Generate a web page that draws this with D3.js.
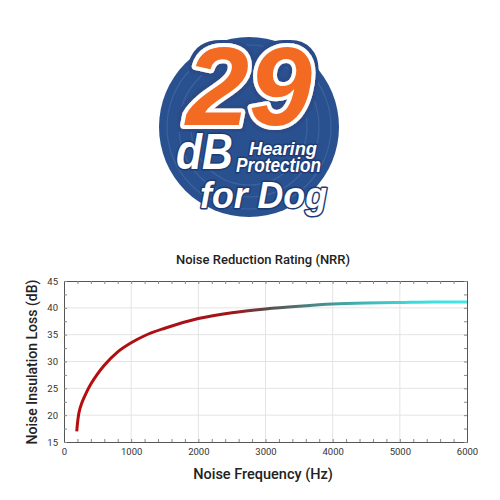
<!DOCTYPE html>
<html>
<head>
<meta charset="utf-8">
<script src="https://cdn.jsdelivr.net/npm/d3@7"></script>
<style>
  body { margin: 0; background: #fff; }
  svg { display: block; }
  .tick text { font-family: Roboto, sans-serif; font-size: 9.5px; fill: #333; }
</style>
</head>
<body>
<svg width="500" height="500"></svg>
<script>
// curve
var freqs = [190, 200, 215, 235, 260, 300, 340, 400, 500, 600, 800, 1000, 1200, 1500, 2000, 2500, 3000, 3500, 4000, 4500, 5000, 5500, 6000];
var loss  = [17, 18.4, 19.9, 21.1, 22.1, 23.3, 24.4, 25.8, 27.7, 29.3, 31.8, 33.5, 34.8, 36.2, 38.0, 39.1, 39.8, 40.3, 40.7, 40.9, 41.0, 41.1, 41.1];
var xMajor = [0, 1000, 2000, 3000, 4000, 5000, 6000];
var yMajor = [15, 20, 25, 30, 35, 40, 45];
var badgeLines = ["Hearing", "Protection", "for Dog"];

var svg = d3.select("svg");
var defs = svg.append("defs");

// thin dark-blue rim around the white outline of the "29"
var rim = defs.append("filter").attr("id", "rim")
    .attr("x", "-10%").attr("y", "-10%").attr("width", "120%").attr("height", "120%");
rim.append("feMorphology").attr("in", "SourceAlpha").attr("operator", "dilate")
    .attr("radius", 2.5).attr("result", "fat");
rim.append("feFlood").attr("flood-color", "#2a4c88");
rim.append("feComposite").attr("in2", "fat").attr("operator", "in").attr("result", "blue");
var m = rim.append("feMerge");
m.append("feMergeNode").attr("in", "blue");
m.append("feMergeNode").attr("in", "SourceGraphic");

// ---- badge ----
var badge = svg.append("g").attr("class", "badge");
badge.append("circle")
    .attr("cx", 249).attr("cy", 127).attr("r", 90)
    .attr("fill", "#29508f");
// faint rings inside the disc
[82, 70, 58].forEach(function(r) {
    badge.append("circle")
        .attr("cx", 249).attr("cy", 127).attr("r", r)
        .attr("fill", "none")
        .attr("stroke", "#4a6fa8")
        .attr("stroke-width", 1.2)
        .attr("opacity", 0.6);
});

badge.append("text")
    .text("29")
    .attr("x", 186).attr("y", 125)
    .attr("textLength", 126)
    .attr("lengthAdjust", "spacingAndGlyphs")
    .attr("filter", "url(#rim)")
    .style("font-family", "'Liberation Sans', Arial, sans-serif")
    .style("font-weight", "bold")
    .style("font-style", "italic")
    .style("font-size", "112px")
    .style("paint-order", "stroke")
    .attr("fill", "#f36a21")
    .attr("stroke", "#fff")
    .attr("stroke-width", 8)
    .attr("stroke-linejoin", "round");

// white words with a blue outline under them
function whiteStyle(t) {
    t.style("font-family", "'Liberation Sans', Arial, sans-serif")
        .style("font-weight", "bold")
        .style("font-style", "italic")
        .style("paint-order", "stroke")
        .attr("fill", "#fff")
        .attr("stroke", "#1d3c73")
        .attr("stroke-width", 3)
        .attr("stroke-linejoin", "round");
}
function whiteText(t, x, y, w, size) {
    badge.append("text")
        .text(t)
        .attr("x", x).attr("y", y)
        .attr("textLength", w)
        .attr("lengthAdjust", "spacingAndGlyphs")
        .style("font-size", size + "px")
        .call(whiteStyle);
}
whiteText("dB", 176, 169, 57, 50);

// "Hearing / Protection" as one block of two lines
var hp = badge.append("text").call(whiteStyle);
hp.append("tspan").text(badgeLines[0])
    .attr("x", 249).attr("y", 155)
    .attr("textLength", 68).attr("lengthAdjust", "spacingAndGlyphs")
    .style("font-size", "19px");
hp.append("tspan").text(badgeLines[1])
    .attr("x", 236).attr("y", 172)
    .attr("textLength", 85).attr("lengthAdjust", "spacingAndGlyphs")
    .style("font-size", "20px");

whiteText(badgeLines[2], 200, 208, 127, 36);

// ---- chart ----
var x = d3.scaleLinear().domain([0, 6000]).range([64, 467]);
var y = d3.scaleLinear().domain([15, 45]).range([442, 281]);

var xMinor = d3.range(0, 6001, 200);
var yMinor = d3.range(15, 45.01, 2.5);

var chart = svg.append("g").attr("class", "chart");

// grid
chart.selectAll(".gx").data(xMajor.slice(1, -1)).enter().append("line")
    .attr("x1", d => x(d)).attr("x2", d => x(d))
    .attr("y1", y(15)).attr("y2", y(45))
    .attr("stroke", "#e4e4e4");
chart.selectAll(".gy").data(yMajor.slice(1, -1)).enter().append("line")
    .attr("y1", d => y(d)).attr("y2", d => y(d))
    .attr("x1", x(0)).attr("x2", x(6000))
    .attr("stroke", "#e4e4e4");

function styleAxis(g) {
    g.select(".domain").attr("stroke", "#555");
    g.selectAll(".tick line").attr("stroke", "#888");
}

chart.append("g")
    .attr("transform", "translate(0," + y(15) + ")")
    .call(d3.axisBottom(x).tickValues(xMinor).tickSizeInner(-3).tickSizeOuter(0).tickPadding(6)
        .tickFormat(d => d % 1000 === 0 ? d : ""))
    .call(styleAxis);
chart.append("g")
    .attr("transform", "translate(0," + y(45) + ")")
    .call(d3.axisTop(x).tickValues(xMinor).tickSizeInner(-3).tickSizeOuter(0).tickFormat(""))
    .call(styleAxis);
chart.append("g")
    .attr("transform", "translate(" + x(0) + ",0)")
    .call(d3.axisLeft(y).tickValues(yMinor).tickSizeInner(-3).tickSizeOuter(0).tickPadding(6)
        .tickFormat(d => d % 5 === 0 ? d : ""))
    .call(styleAxis);
chart.append("g")
    .attr("transform", "translate(" + x(6000) + ",0)")
    .call(d3.axisRight(y).tickValues(yMinor).tickSizeInner(-3).tickSizeOuter(0).tickFormat(""))
    .call(styleAxis);

// gradient along the curve: red to cyan
var grad = defs.append("linearGradient")
    .attr("id", "curveGrad")
    .attr("gradientUnits", "userSpaceOnUse")
    .attr("x1", x(0)).attr("x2", x(6000))
    .attr("y1", 0).attr("y2", 0);
[[0, "#b80c0c"], [2500, "#a3121a"], [3000, "#5c4848"], [3600, "#4d7d7d"],
 [4300, "#42acad"], [5200, "#3cdcdc"], [6000, "#46e6e6"]].forEach(function(s) {
    grad.append("stop").attr("offset", s[0] / 6000).attr("stop-color", s[1]);
});

var line = d3.line()
    .x((d, i) => x(freqs[i]))
    .y(d => y(d))
    .curve(d3.curveMonotoneX);

chart.append("path")
    .datum(loss)
    .attr("d", line)
    .attr("fill", "none")
    .attr("stroke", "url(#curveGrad)")
    .attr("stroke-width", 3);

// titles
chart.append("text")
    .text("Noise Reduction Rating (NRR)")
    .attr("x", 263).attr("y", 264)
    .attr("text-anchor", "middle")
    .style("font-family", "Roboto, sans-serif")
    .style("font-weight", 500)
    .style("font-size", "13px")
    .attr("fill", "#222");
chart.append("text")
    .text("Noise Frequency (Hz)")
    .attr("x", 263).attr("y", 479)
    .attr("text-anchor", "middle")
    .style("font-family", "Roboto, sans-serif")
    .style("font-weight", 500)
    .style("font-size", "14.5px")
    .attr("fill", "#222");
chart.append("text")
    .text("Noise Insulation Loss (dB)")
    .attr("transform", "translate(37,362) rotate(-90)")
    .attr("text-anchor", "middle")
    .style("font-family", "Roboto, sans-serif")
    .style("font-weight", 500)
    .style("font-size", "14px")
    .attr("fill", "#222");
</script>
</body>
</html>
